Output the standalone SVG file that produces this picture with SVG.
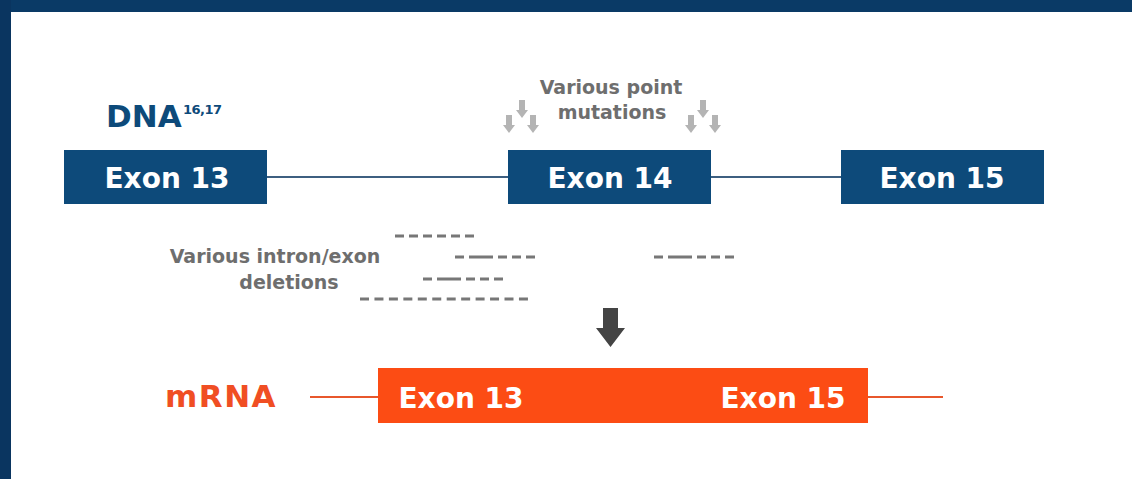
<svg xmlns="http://www.w3.org/2000/svg" width="1132" height="479" viewBox="0 0 1132 479">
<defs>
<style>
.lbl{font-family:"DejaVu Sans","Liberation Sans",sans-serif;font-weight:700}
.ex{fill:#0d4a7a}
.ext{fill:#ffffff;font-size:28px;text-anchor:middle}
.gray{fill:#6e6e6e;font-size:19px;text-anchor:middle}
.dash{stroke:#777777;stroke-width:3;fill:none}
.sa{fill:#b4b4b4}
</style>
<polygon id="sarrow" points="-3,0 3,0 3,10 6,10 0,18 -6,10 -3,10"/>
</defs>
<rect x="0" y="0" width="1132" height="479" fill="#ffffff"/>
<rect x="0" y="0" width="1132" height="12" fill="#0a3a66"/>
<rect x="0" y="0" width="11" height="479" fill="#0a3560"/>

<g id="connectors">
<line x1="267" y1="177" x2="508" y2="177" stroke="#3d5f80" stroke-width="2"/>
<line x1="711" y1="177" x2="841" y2="177" stroke="#3d5f80" stroke-width="2"/>
<line x1="310" y1="397" x2="378" y2="397" stroke="#e8572c" stroke-width="2"/>
<line x1="868" y1="397" x2="943" y2="397" stroke="#e8572c" stroke-width="2"/>
<polygon points="603,308 618,308 618,328 625,328 610.5,347 596,328 603,328" fill="#444444"/>
</g>

<g id="dna-label">
<text class="lbl" x="106" y="127" font-size="31" fill="#0d4a7a">DNA</text>
<text class="lbl" x="183" y="114" font-size="13" fill="#0d4a7a" font-weight="400" letter-spacing="-0.5">16,17</text>
</g>

<g id="exon13">
<rect class="ex" x="64" y="150" width="203" height="54"/>
<text class="lbl ext" x="167" y="188">Exon 13</text>
</g>
<g id="exon14">
<rect class="ex" x="508" y="150" width="203" height="54"/>
<text class="lbl ext" x="610" y="188">Exon 14</text>
</g>
<g id="exon15">
<rect class="ex" x="841" y="150" width="203" height="54"/>
<text class="lbl ext" x="942" y="188">Exon 15</text>
</g>

<g id="point-mutations">
<text class="lbl gray" x="611" y="94">Various point</text>
<text class="lbl gray" x="612" y="119">mutations</text>
<g class="sa">
<use href="#sarrow" x="522" y="100"/>
<use href="#sarrow" x="509" y="115"/>
<use href="#sarrow" x="533" y="115"/>
<use href="#sarrow" x="703" y="100"/>
<use href="#sarrow" x="691" y="115"/>
<use href="#sarrow" x="715" y="115"/>
</g>
</g>

<g id="deletions">
<text class="lbl gray" x="275" y="263">Various intron/exon</text>
<text class="lbl gray" x="289" y="289">deletions</text>
<line class="dash" x1="395" y1="236" x2="478" y2="236" stroke-dasharray="9,5"/>
<line class="dash" x1="455" y1="257" x2="538" y2="257" stroke-dasharray="9,5,24,5,9,5,9,5,9"/>
<line class="dash" x1="423" y1="279" x2="506" y2="279" stroke-dasharray="9,5,24,5,9,5,9,5,9"/>
<line class="dash" x1="360" y1="299" x2="530" y2="299" stroke-dasharray="9,5.45"/>
<line class="dash" x1="654" y1="257" x2="737" y2="257" stroke-dasharray="9,5,24,5,9,5,9,5,9"/>
</g>

<g id="mrna-label">
<text class="lbl" x="165" y="407" font-size="31" fill="#f04e23" letter-spacing="1.5">mRNA</text>
</g>
<g id="mrna">
<rect x="378" y="368" width="490" height="55" fill="#fc4c14"/>
<text class="lbl ext" x="461" y="408">Exon 13</text>
<text class="lbl ext" x="783" y="408">Exon 15</text>
</g>
</svg>
